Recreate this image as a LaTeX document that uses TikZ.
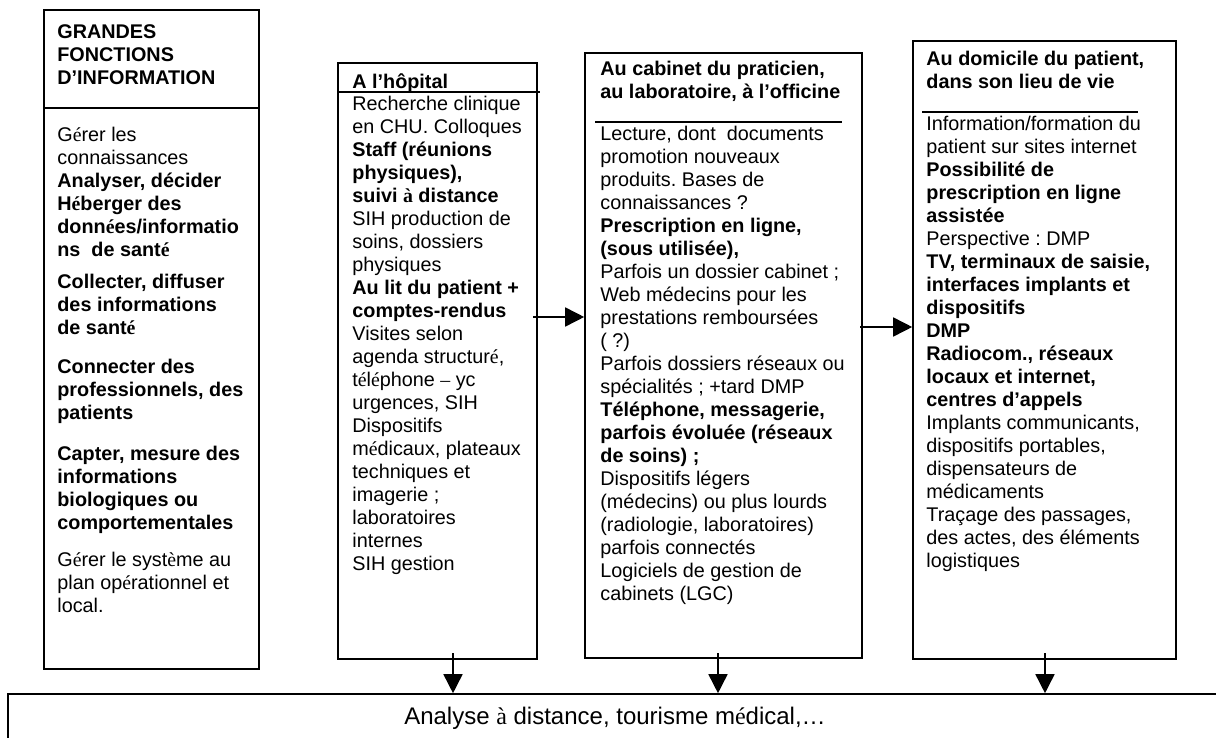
\documentclass[tikz,border=0pt]{standalone}
\usepackage{fontspec}
\setmainfont{Liberation Sans}
\newfontfamily\serifacc{Liberation Serif}
\newcommand\sa[1]{{\serifacc #1}}
\usetikzlibrary{arrows.meta,fit,positioning}
\frenchspacing

\begin{document}
\begin{tikzpicture}[x=0.5pt,y=-0.5pt,
    box/.style={draw, line width=0.8pt, inner sep=0pt},
    txt/.style={anchor=north west, inner sep=0pt, align=left,
      font=\fontsize{9.9pt}{11.5pt}\selectfont, execute at begin node=\strut},
    titre/.style={txt, font=\fontsize{9.9pt}{11.5pt}\selectfont\bfseries},
    rule/.style={line width=0.8pt},
    arr/.style={line width=0.8pt, -{Triangle[length=9.5pt,width=9.5pt]}}]
\useasboundingbox (0,0) rectangle (1216,738);

\node[box, fit={(44,10) (259,669)}] (fonctions) {};
\node[box, fit={(338,63) (537,659)}] (hopital) {};
\node[box, fit={(585,53) (862,658)}] (cabinet) {};
\node[box, fit={(913,41) (1176,659)}] (domicile) {};
\node[box, fit={(8,694) (1222,745)}] (analyse) {};
\node[inner sep=0pt, font=\fontsize{12pt}{14pt}\selectfont] (analyse-texte) at (615,718)
  {Analyse \sa{à} distance, tourisme m\sa{é}dical,…};

\draw[rule] (44,108) -- (259,108);
\draw[rule] (338,92) -- (540,92);
\draw[rule] (595,122) -- (842,122);
\draw[rule] (922,112) -- (1138,112);

\node[titre] (fonctions-titre) at (57,24.4) {GRANDES\\FONCTIONS\\D’INFORMATION};
\node[txt] (fonctions-texte) at (57,126.4) {G\sa{é}rer les\\
  connaissances\\
  \textbf{Analyser, décider}\\
  \textbf{H\sa{é}berger des}\\
  \textbf{donn\sa{é}es/informatio}\\
  \textbf{ns~ de sant\sa{é}}\\[4.5pt]
  \textbf{Collecter, diffuser}\\
  \textbf{des informations}\\
  \textbf{de sant\sa{é}}\\[8pt]
  \textbf{Connecter des}\\
  \textbf{professionnels, des}\\
  \textbf{patients}\\[9pt]
  \textbf{Capter, mesure des}\\
  \textbf{informations}\\
  \textbf{biologiques ou}\\
  \textbf{comportementales}\\[7pt]
  G\sa{é}rer le syst\sa{è}me au\\
  plan op\sa{é}rationnel et\\
  local.};

\node[titre] (hopital-titre) at (352,72.4) {A l’hôpital};
\node[txt] (hopital-texte) at (352,95.4) {Recherche clinique\\
  en CHU. Colloques\\
  \textbf{Staff (réunions}\\
  \textbf{physiques),}\\
  \textbf{suivi \sa{à} distance}\\
  SIH production de\\
  soins, dossiers\\
  physiques\\
  \textbf{Au lit du patient +}\\
  \textbf{comptes-rendus}\\
  Visites selon\\
  agenda structur\sa{é},\\
  t\sa{é}l\sa{é}phone \sa{–} yc\\
  urgences, SIH\\
  Dispositifs\\
  m\sa{é}dicaux, plateaux\\
  techniques et\\
  imagerie ;\\
  laboratoires\\
  internes\\
  SIH gestion};

\node[titre] (cabinet-titre) at (600,60.4) {Au cabinet du praticien,\\au laboratoire, à l’officine};
\node[txt] (cabinet-texte) at (600,125.4) {Lecture, dont~ documents\\
  promotion nouveaux\\
  produits. Bases de\\
  connaissances ?\\
  \textbf{Prescription en ligne,}\\
  \textbf{(sous utilisée),}\\
  Parfois un dossier cabinet ;\\
  Web médecins pour les\\
  prestations remboursées\\
  ( ?)\\
  Parfois dossiers réseaux ou\\
  spécialités ; +tard DMP\\
  \textbf{Téléphone, messagerie,}\\
  \textbf{parfois évoluée (réseaux}\\
  \textbf{de soins) ;}\\
  Dispositifs légers\\
  (médecins) ou plus lourds\\
  (radiologie, laboratoires)\\
  parfois connectés\\
  Logiciels de gestion de\\
  cabinets (LGC)};

\node[titre] (domicile-titre) at (926,50.4) {Au domicile du patient,\\dans son lieu de vie};
\node[txt] (domicile-texte) at (926,115.4) {Information/formation du\\
  patient sur sites internet\\
  \textbf{Possibilité de}\\
  \textbf{prescription en ligne}\\
  \textbf{assistée}\\
  Perspective : DMP\\
  \textbf{TV, terminaux de saisie,}\\
  \textbf{interfaces implants et}\\
  \textbf{dispositifs}\\
  \textbf{DMP}\\
  \textbf{Radiocom., réseaux}\\
  \textbf{locaux et internet,}\\
  \textbf{centres d’appels}\\
  Implants communicants,\\
  dispositifs portables,\\
  dispensateurs de\\
  médicaments\\
  Traçage des passages,\\
  des actes, des éléments\\
  logistiques};

\coordinate (hopital-r) at (533,317);
\coordinate (cabinet-r) at (860,327);
\draw[arr] (hopital-r) -- (hopital-r -| cabinet.west);
\draw[arr] (cabinet-r) -- (cabinet-r -| domicile.west);

\foreach \n/\x in {hopital/453, cabinet/718, domicile/1045}{
  \coordinate (\n-b) at (\x,653);
  \draw[arr] (\n-b) -- (\n-b |- analyse.north);
}
\end{tikzpicture}
\end{document}
